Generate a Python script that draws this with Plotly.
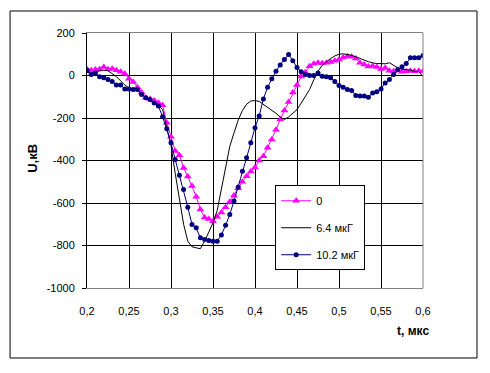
import plotly.graph_objects as go

t = [0.200, 0.205, 0.210, 0.215, 0.220, 0.225, 0.230, 0.235, 0.240, 0.245,
     0.250, 0.255, 0.260, 0.265, 0.270, 0.275, 0.280, 0.285, 0.290, 0.295,
     0.300, 0.305, 0.310, 0.315, 0.320, 0.325, 0.330, 0.335, 0.340, 0.345,
     0.350, 0.355, 0.360, 0.365, 0.370, 0.375, 0.380, 0.385, 0.390, 0.395,
     0.400, 0.405, 0.410, 0.415, 0.420, 0.425, 0.430, 0.435, 0.440, 0.445,
     0.450, 0.455, 0.460, 0.465, 0.470, 0.475, 0.480, 0.485, 0.490, 0.495,
     0.500, 0.505, 0.510, 0.515, 0.520, 0.525, 0.530, 0.535, 0.540, 0.545,
     0.550, 0.555, 0.560, 0.565, 0.570, 0.575, 0.580, 0.585, 0.590, 0.595,
     0.600]

u_0 = [30, 25, 28, 30, 40, 30, 32, 25, 18, 8,
       -15, -30, -55, -80, -105, -110, -118, -128, -140, -222,
       -288, -355, -375, -435, -475, -520, -570, -630, -668, -675,
       -686, -665, -645, -620, -594, -565, -530, -500, -474, -452,
       -433, -400, -380, -340, -301, -255, -207, -165, -125, -80,
       -45, -5, 15, 44, 55, 60, 58, 60, 63, 70,
       75, 85, 91, 88, 80, 60, 52, 42, 45, 40,
       31, 35, 22, 20, 25, 18, 20, 22, 20, 22,
       20]

u_64 = [15, 10, 18, 20, 25, 22, 10, -5, -25, -45,
        -58, -62, -68, -85, -105, -118, -130, -140, -160, -240,
        -330, -460, -590, -700, -780, -806, -811, -815, -780, -735,
        -693, -635, -530, -430, -333, -270, -210, -165, -135, -120,
        -118, -122, -135, -150, -162, -178, -195, -207, -195, -175,
        -160, -130, -97, -66, -20, 20, 48, 65, 80, 92,
        100, 102, 100, 95, 88, 80, 72, 65, 60, 56,
        56, 55, 60, 50, 36, 30, 28, 25, 20, 18,
        -5]

u_102 = [25, 5, 12, -6, -11, -19, -28, -45, -45, -63,
         -63, -66, -66, -89, -105, -113, -129, -144, -194, -251,
         -317, -395, -469, -536, -620, -701, -717, -764, -772, -776,
         -780, -780, -750, -705, -654, -590, -525, -450, -387, -317,
         -246, -190, -110, -55, -15, 20, 50, 75, 99, 70,
         38, 18, 5, 0, 0, 12, -4, -6, -10, -28,
         -47, -55, -66, -70, -94, -97, -97, -102, -82, -76,
         -63, -35, -19, 5, 28, 41, 56, 83, 83, 83,
         94]

names = ["0", "6.4 мкГ", "10.2 мкГ"]

x_tickvals = [0.2, 0.25, 0.3, 0.35, 0.4, 0.45, 0.5, 0.55, 0.6]
x_ticktext = ["0,2", "0,25", "0,3", "0,35", "0,4", "0,45", "0,5", "0,55", "0,6"]
y_tickvals = [200, 0, -200, -400, -600, -800, -1000]
y_ticktext = ["200", "0", "-200", "-400", "-600", "-800", "-1000"]

FONT = "Liberation Sans, Arial, sans-serif"

fig = go.Figure()
fig.add_trace(go.Scatter(
    x=t, y=u_0, name=names[0], mode="lines+markers", legendgroup="a",
    line=dict(color="#FF00FF", width=1),
    marker=dict(symbol="triangle-up", size=7, color="#FF00FF"),
))
fig.add_trace(go.Scatter(
    x=t, y=u_64, name=names[1], mode="lines", legendgroup="b",
    line=dict(color="#000000", width=1),
))
fig.add_trace(go.Scatter(
    x=t, y=u_102, name=names[2], mode="lines+markers", legendgroup="c",
    line=dict(color="#000080", width=1),
    marker=dict(symbol="circle", size=5, color="#000080"),
))

# page body adds an 8px margin, so the figure is 8px smaller on each axis
fig.update_layout(
    width=482, height=365,
    margin=dict(l=79, r=67, t=25, b=85),
    paper_bgcolor="white", plot_bgcolor="white",
    font=dict(family=FONT, size=11, color="black"),
    showlegend=True,
    legend=dict(
        x=0.56, y=0.403, xanchor="left", yanchor="top",
        bgcolor="white", bordercolor="black", borderwidth=1,
        font=dict(family=FONT, size=11, color="black"),
        tracegroupgap=8,
    ),
    xaxis=dict(
        range=[0.2, 0.6], tickvals=x_tickvals, ticktext=x_ticktext,
        showgrid=True, gridcolor="black", gridwidth=1,
        zeroline=False, showline=True, linecolor="#808080", linewidth=1,
        mirror=True, ticks="", ticklabelstandoff=13,
    ),
    yaxis=dict(
        range=[-1000, 200], tickvals=y_tickvals, ticktext=y_ticktext,
        showgrid=True, gridcolor="black", gridwidth=1,
        zeroline=False, showline=True, linecolor="black", linewidth=1,
        ticks="outside", ticklen=4, tickcolor="black", ticklabelstandoff=5,
    ),
    shapes=[
        dict(type="line", xref="paper", yref="paper", x0=1, x1=1, y0=0, y1=1,
             line=dict(color="#808080", width=1)),
        dict(type="rect", xref="paper", yref="paper",
             x0=-0.229, x1=1.1607, y0=-0.2745, y1=1.0863,
             line=dict(color="black", width=1)),
    ],
    annotations=[
        dict(text="<b>U,кВ</b>", xref="paper", yref="paper",
             x=-0.161, y=0.51, textangle=-90, showarrow=False,
             xanchor="center", yanchor="middle",
             font=dict(family=FONT, size=13, color="black")),
        dict(text="<b>t, мкс</b>", xref="paper", yref="paper",
             x=0.97, y=-0.169, showarrow=False,
             xanchor="center", yanchor="middle",
             font=dict(family=FONT, size=12, color="black")),
    ],
)

fig.write_html("out.html")
